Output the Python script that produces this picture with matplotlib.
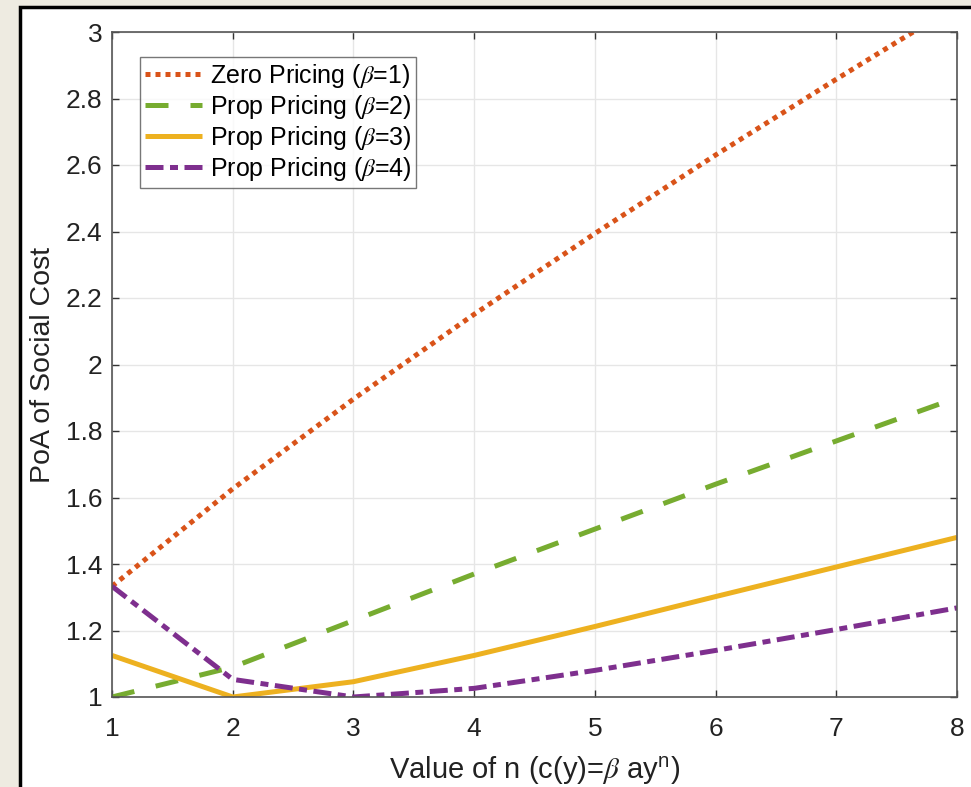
import numpy as np
import matplotlib.pyplot as plt
from matplotlib.patches import Rectangle

plt.rcParams['font.family'] = ['Liberation Sans', 'DejaVu Sans']
plt.rcParams['mathtext.fontset'] = 'stix'

# ---- data ----
n_vals = [1, 2, 3, 4, 5, 6, 7, 8]
zero_b1 = [1.333, 1.626, 1.896, 2.151, 2.394, 2.630, 2.858, 3.081]
prop_b2 = [1.000, 1.090, 1.230, 1.370, 1.505, 1.640, 1.770, 1.900]
prop_b3 = [1.125, 1.000, 1.046, 1.125, 1.212, 1.302, 1.391, 1.480]
prop_b4 = [1.333, 1.053, 1.000, 1.026, 1.080, 1.140, 1.203, 1.268]
yticks = [1, 1.2, 1.4, 1.6, 1.8, 2, 2.2, 2.4, 2.6, 2.8, 3]
ytick_labels = ['1', '1.2', '1.4', '1.6', '1.8', '2', '2.2', '2.4', '2.6', '2.8', '3']

fig = plt.figure(figsize=(9.71, 7.87), dpi=100)
fig.patch.set_facecolor('#eeebe1')
# white page with black frame
fig.patches.append(Rectangle((20 / 971, -0.05), 1.0, 1 - 7 / 787 + 0.05,
                             transform=fig.transFigure, facecolor='white',
                             edgecolor='black', linewidth=2.5, zorder=-5))

ax = fig.add_axes([112 / 971, 90 / 787, 845 / 971, 665 / 787])
ax.set_facecolor('white')

lw = 3.6
ax.plot(n_vals, zero_b1, color='#D95319', lw=lw, dashes=(1, 1), dash_capstyle='butt',
        label=r'Zero Pricing ($\beta$=1)')
ax.plot(n_vals, prop_b2, color='#77AC30', lw=lw, dashes=(4.6, 4.4), dash_capstyle='butt',
        label=r'Prop Pricing ($\beta$=2)')
ax.plot(n_vals, prop_b3, color='#EDB120', lw=lw, solid_capstyle='butt',
        label=r'Prop Pricing ($\beta$=3)')
ax.plot(n_vals, prop_b4, color='#7E2F8E', lw=lw, dashes=(3.6, 1.3, 1.6, 1.3), dash_capstyle='butt',
        label=r'Prop Pricing ($\beta$=4)')

ax.set_xlim(1, 8)
ax.set_ylim(1, 3)
ax.set_xticks(n_vals)
ax.set_yticks(yticks)
ax.set_yticklabels(ytick_labels)
ax.grid(True, color='#e6e6e6', linewidth=1)
ax.set_axisbelow(True)
for s in ax.spines.values():
    s.set_color('#555555')
    s.set_linewidth(1.2)
ax.tick_params(direction='in', length=5, width=1, colors='#333333', labelsize=19,
               top=True, right=True, labelcolor='#222222', pad=7)
ax.tick_params(axis='x', pad=14.5)

ax.set_xlabel(r'Value of n (c(y)=$\beta$ ay$^{\mathregular{n}}$)', fontsize=21, color='#222222',
              labelpad=9)
ax.set_ylabel('PoA of Social Cost', fontsize=20.5, color='#222222', labelpad=7)

leg = ax.legend(loc='upper left', fontsize=18, frameon=True, fancybox=False,
                edgecolor='#555555', handlelength=2.3, handletextpad=0.3,
                borderpad=0.2, labelspacing=0.12, borderaxespad=0.0,
                bbox_to_anchor=(0.033, 0.963))
leg.get_frame().set_linewidth(1.0)

fig.savefig('out.png', dpi=100, facecolor=fig.get_facecolor())
